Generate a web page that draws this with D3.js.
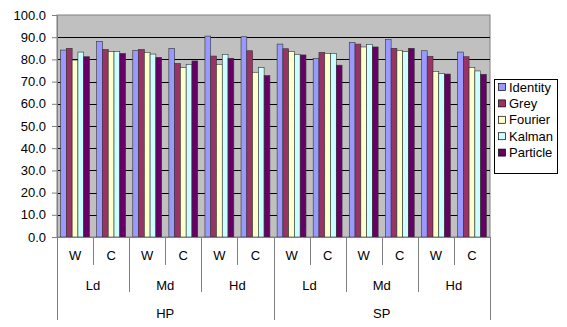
<!DOCTYPE html>
<html><head><meta charset="utf-8">
<script src="https://cdn.jsdelivr.net/npm/d3@7/dist/d3.min.js"></script>
<style>body{margin:0;background:#fff;}svg{display:block;font-family:Arial,"Liberation Sans",sans-serif;}</style>
</head><body><svg id="c" width="567" height="327"></svg>
<script>
const outerCats = ["HP","SP"];
const midCats = ["Ld","Md","Hd"];
const innerCats = ["W","C"];
const seriesNames = ["Identity","Grey","Fourier","Kalman","Particle"];
const seriesColors = ["#9999FF","#993366","#FFFFCC","#CCFFFF","#660066"];
const identity = [84.2,88.1,84.1,85.0,90.5,90.2, 86.9,80.5,87.7,88.9,83.9,83.3];
const grey     = [85.0,84.5,84.5,78.2,81.5,83.9, 84.8,83.2,86.9,85.0,81.4,81.2];
const fourier  = [79.7,83.5,83.2,76.3,77.8,74.2, 83.5,82.7,85.6,84.1,74.6,76.3];
const kalman   = [83.3,83.6,82.4,77.8,82.3,76.3, 82.3,82.7,86.8,83.5,73.6,74.8];
const particle = [81.2,82.7,80.9,79.3,80.5,72.7, 82.0,77.4,85.6,85.0,73.4,73.3];
const yTicks = [0,10,20,30,40,50,60,70,80,90,100];

const seriesVals = [identity,grey,fourier,kalman,particle];
const cats = [];
outerCats.forEach(o=>midCats.forEach(m=>innerCats.forEach(i=>cats.push({o,m,i,key:o+"|"+m+"|"+i}))));

const svg = d3.select("#c");
const L=57, R=490, T=15, B=237;
const y = d3.scaleLinear().domain([0,100]).range([B,T]);
const x0 = d3.scaleBand().domain(cats.map(c=>c.key)).range([L,R]).paddingInner(0.2).paddingOuter(0.1);
const x1 = d3.scaleBand().domain(seriesNames).range([0,x0.bandwidth()]).padding(0);

svg.append("rect").attr("x",L).attr("y",T).attr("width",R-L).attr("height",B-T).attr("fill","#C0C0C0").attr("stroke","#808080").attr("stroke-width",1);

svg.append("g").selectAll("line").data(yTicks.filter(t=>t>0&&t<100)).join("line")
  .attr("x1",L).attr("x2",R).attr("y1",d=>Math.round(y(d))+0.5).attr("y2",d=>Math.round(y(d))+0.5)
  .attr("stroke","#000").attr("stroke-width",1);

const g = svg.append("g");
cats.forEach((c,ci)=>{
  seriesNames.forEach((s,si)=>{
    const v = seriesVals[si][ci];
    g.append("rect").attr("x",x0(c.key)+x1(s)).attr("y",y(v)).attr("width",x1.bandwidth()).attr("height",y(0)-y(v))
      .attr("fill",seriesColors[si]).attr("stroke","#333").attr("stroke-width",0.6);
  });
});

const ya = svg.append("g").attr("transform",`translate(${L},0)`)
  .call(d3.axisLeft(y).tickValues(yTicks).tickFormat(d3.format(".1f")).tickSize(5).tickPadding(6));
ya.select(".domain").attr("stroke","#808080");
ya.selectAll(".tick line").attr("stroke","#808080");
ya.selectAll("text").attr("font-size",13).attr("fill","#000").attr("font-family","Arial, 'Liberation Sans', sans-serif");

// category axis
const ax = svg.append("g");
ax.append("line").attr("x1",L).attr("x2",R).attr("y1",B+0.5).attr("y2",B+0.5).attr("stroke","#808080");
const step = x0.step();
const lineC="#808080";
function vline(xp,y2){ax.append("line").attr("x1",Math.round(xp)+0.5).attr("x2",Math.round(xp)+0.5).attr("y1",B).attr("y2",y2).attr("stroke",lineC);}
cats.forEach((c,ci)=>{
  const xl = L+ci*step;
  if(ci>0){
    if(ci%6===0) vline(xl,320);
    else if(ci%2===0) vline(xl,292);
    else vline(xl,265);
  }
  ax.append("text").attr("x",xl+step/2).attr("y",260).attr("text-anchor","middle").attr("font-size",13).text(c.i);
});
vline(L,320); vline(R,320);
outerCats.forEach((o,oi)=>{
  midCats.forEach((m,mi)=>{
    const xl = L+(oi*6+mi*2)*step;
    ax.append("text").attr("x",xl+step).attr("y",290).attr("text-anchor","middle").attr("font-size",13).text(m);
  });
  ax.append("text").attr("x",L+(oi*6+3)*step).attr("y",318).attr("text-anchor","middle").attr("font-size",13).text(o);
});

// legend
const lg = svg.append("g");
lg.append("rect").attr("x",494.5).attr("y",79.5).attr("width",63).attr("height",94).attr("fill","#fff").attr("stroke","#000");
seriesNames.forEach((s,i)=>{
  const cy = 87+i*16.4;
  lg.append("rect").attr("x",498.5).attr("y",cy-3.5).attr("width",7).attr("height",7).attr("fill",seriesColors[i]).attr("stroke","#000").attr("stroke-width",0.7);
  lg.append("text").attr("x",509).attr("y",cy+4.5).attr("font-size",13).text(s);
});
</script></body></html>
